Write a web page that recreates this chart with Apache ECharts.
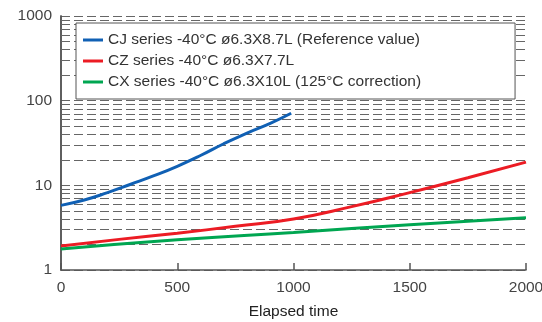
<!DOCTYPE html>
<html>
<head>
<meta charset="utf-8">
<script src="https://cdn.jsdelivr.net/npm/echarts@6/dist/echarts.min.js"></script>
<style>html,body{margin:0;padding:0;background:#fff;}#c{width:542px;height:322px;}</style>
</head>
<body>
<div id="c"></div>
<script>
var seriesNames = [
  'CJ series -40°C ø6.3X8.7L (Reference value)',
  'CZ series -40°C ø6.3X7.7L',
  'CX series -40°C ø6.3X10L (125°C correction)'
];
var cjData = [[0,5.8],[100,6.7],[200,8.2],[300,10.3],[400,13.0],[500,16.8],[600,22.5],[700,31],[800,41.5],[900,54],[990,71]];
var czData = [[0,1.92],[250,2.3],[500,2.72],[750,3.28],[1000,4.0],[1250,5.6],[1500,8.2],[1750,12.3],[2000,18.8]];
var cxData = [[0,1.77],[500,2.27],[1000,2.78],[1500,3.42],[2000,4.14]];
var xTicks = [0,500,1000,1500,2000];
var yTicks = [1,10,100,1000];
var minorGrid = [2,3,4,5,6,7,8,9,20,30,40,50,60,70,80,90,200,300,400,500,600,700,800,900];

var FONT = "'Liberation Sans',Arial,sans-serif";
var gridLine = {color:'#666', width:1, type:[9,4]};

var chart = echarts.init(document.getElementById('c'), null, {renderer:'canvas'});
chart.setOption({
  animation:false,
  backgroundColor:'#fff',
  grid:{left:61, right:16, top:16, bottom:52, containLabel:false, outerBoundsMode:'none'},
  legend:{
    data:seriesNames,
    orient:'vertical',
    left:76, top:23,
    z:100, zlevel:0,
    padding:[7,94,7,7],
    itemWidth:20, itemHeight:3,
    itemGap:1,
    icon:'rect',
    backgroundColor:'#fff',
    borderColor:'#555', borderWidth:1,
    textStyle:{fontFamily:FONT, fontSize:15.5, color:'#333', lineHeight:20}
  },
  xAxis:{
    type:'value', min:0, max:2000, interval:500,
    axisLine:{show:true, lineStyle:{color:'#555', width:1.5}},
    axisTick:{show:true, inside:true, length:7, lineStyle:{color:'#555', width:1.5}},
    axisLabel:{fontFamily:FONT, fontSize:15.5, color:'#444', margin:10,
      formatter:function(v){return xTicks.indexOf(v)>=0 ? String(v) : '';}},
    splitLine:{show:false},
    name:'Elapsed time', nameLocation:'middle', nameGap:34,
    nameTextStyle:{fontFamily:FONT, fontSize:15.5, color:'#222'}
  },
  yAxis:[{
    type:'log', logBase:10, min:1, max:1000,
    axisLine:{show:true, onZero:false, lineStyle:{color:'#555', width:1.5}},
    axisTick:{show:false},
    axisLabel:{fontFamily:FONT, fontSize:15.5, color:'#444', margin:9,
      formatter:function(v){return yTicks.indexOf(Math.round(v))>=0 ? String(Math.round(v)) : '';}},
    splitLine:{show:true, lineStyle:gridLine}
  },{
    type:'log', logBase:10, min:1, max:1000, position:'right',
    axisLine:{show:true, lineStyle:{color:'#555', width:1.5}},
    axisTick:{show:false}, axisLabel:{show:false}, splitLine:{show:false}
  }],
  series:[
    {
      name:'grid', type:'line', data:[], silent:true, z:1,
      markLine:{
        silent:true, symbol:['none','none'], animation:false, z:1,
        label:{show:false},
        lineStyle:gridLine,
        emphasis:{disabled:true},
        data:minorGrid.map(function(v){return {yAxis:v};})
      }
    },
    {name:seriesNames[0], type:'line', smooth:true, showSymbol:false, data:cjData, z:3,
     lineStyle:{color:'#1060b4', width:3}, itemStyle:{color:'#1060b4'}},
    {name:seriesNames[1], type:'line', smooth:true, showSymbol:false, data:czData, z:3,
     lineStyle:{color:'#ec1c24', width:3}, itemStyle:{color:'#ec1c24'}},
    {name:seriesNames[2], type:'line', smooth:true, showSymbol:false, data:cxData, z:3,
     lineStyle:{color:'#00a651', width:3}, itemStyle:{color:'#00a651'}}
  ]
});
</script>
</body>
</html>
